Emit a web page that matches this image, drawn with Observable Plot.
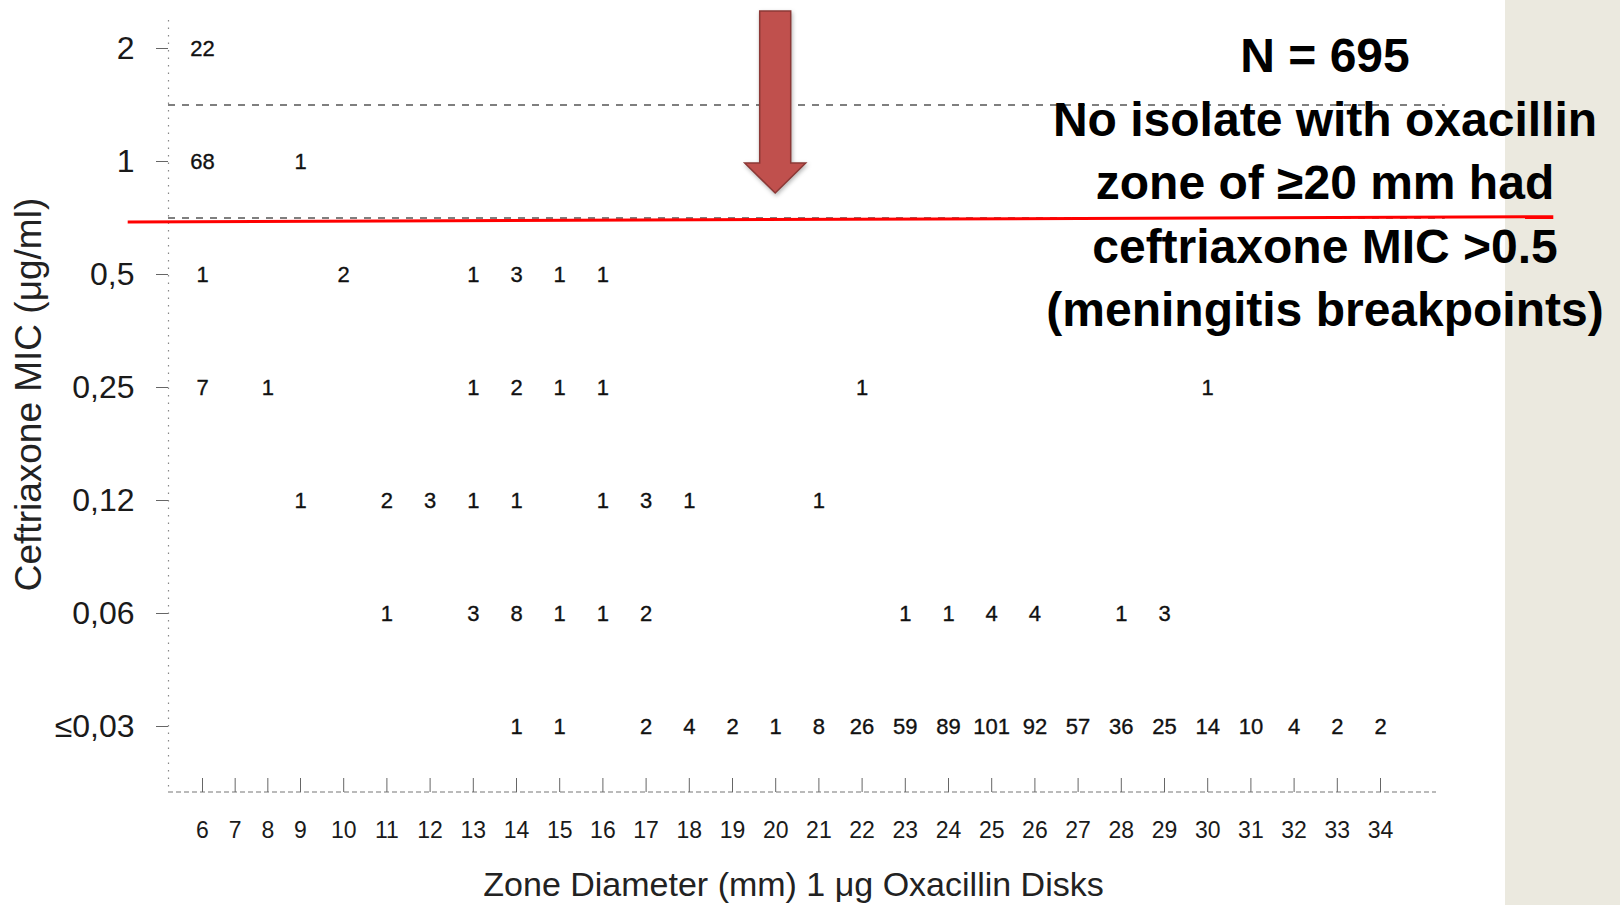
<!DOCTYPE html>
<html>
<head>
<meta charset="utf-8">
<script src="https://cdn.jsdelivr.net/npm/d3@7"></script>
<script src="https://cdn.jsdelivr.net/npm/@observablehq/plot@0.6"></script>
<style>
  html, body { margin: 0; padding: 0; background: #ffffff; width: 1620px; height: 905px; overflow: hidden; }
  #panel { position: absolute; left: 1505px; top: 0; width: 115px; height: 905px; background: #ebe9df; }
  #chart { position: absolute; left: 0; top: 0; }
  #note { position: absolute; left: 1025px; top: 24px; width: 600px; text-align: center;
          font-family: "Liberation Sans", Arial, sans-serif; font-weight: bold; font-size: 48px;
          line-height: 63.5px; color: #000; }
</style>
</head>
<body>
<div id="panel"></div>
<div id="chart"></div>
<div id="note"></div>
<script>
// ---- Data ----
const micValues = [2, 1, 0.5, 0.25, 0.125, 0.0625, 0.03125];
const micLabels = ["2", "1", "0,5", "0,25", "0,12", "0,06", "≤0,03"];
const zoneTicks = [6, 7, 8, 9, 10, 11, 12, 13, 14, 15, 16, 17, 18, 19, 20, 21, 22, 23, 24, 25, 26, 27, 28, 29, 30, 31, 32, 33, 34];

const zones_2 = [6];
const counts_2 = [22];
const zones_1 = [6, 9];
const counts_1 = [68, 1];
const zones_05 = [6, 10, 13, 14, 15, 16];
const counts_05 = [1, 2, 1, 3, 1, 1];
const zones_025 = [6, 8, 13, 14, 15, 16, 22, 30];
const counts_025 = [7, 1, 1, 2, 1, 1, 1, 1];
const zones_012 = [9, 11, 12, 13, 14, 16, 17, 18, 21];
const counts_012 = [1, 2, 3, 1, 1, 1, 3, 1, 1];
const zones_006 = [11, 13, 14, 15, 16, 17, 23, 24, 25, 26, 28, 29];
const counts_006 = [1, 3, 8, 1, 1, 2, 1, 1, 4, 4, 1, 3];
const zones_003 = [14, 15, 17, 18, 19, 20, 21, 22, 23, 24, 25, 26, 27, 28, 29, 30, 31, 32, 33, 34];
const counts_003 = [1, 1, 2, 4, 2, 1, 8, 26, 59, 89, 101, 92, 57, 36, 25, 14, 10, 4, 2, 2];

const breakpointsMIC = [Math.SQRT2, Math.SQRT1_2];   // dashed lines between MIC rows
const arrowZone = 20;                                 // oxacillin zone ≥20 mm
const noteLines = ["N = 695", "No isolate with oxacillin", "zone of ≥20 mm had", "ceftriaxone MIC >0.5", "(meningitis breakpoints)"];
const xTitle = "Zone Diameter (mm) 1 μg Oxacillin Disks";
const yTitle = "Ceftriaxone MIC (μg/ml)";

// ---- Build the table ----
const rowsZones = [zones_2, zones_1, zones_05, zones_025, zones_012, zones_006, zones_003];
const rowsCounts = [counts_2, counts_1, counts_05, counts_025, counts_012, counts_006, counts_003];
const cells = [];
rowsZones.forEach((zs, i) => zs.forEach((z, j) => cells.push({mic: micValues[i], zone: z, count: rowsCounts[i][j]})));

// ---- Custom marks ----
function bottomAxisLine(index, scales, values, dims) {
  const y = dims.height - dims.marginBottom;
  return d3.create("svg:line")
    .attr("x1", dims.marginLeft).attr("x2", dims.width - dims.marginRight)
    .attr("y1", y).attr("y2", y)
    .attr("stroke", "#777").attr("stroke-width", 1.2).attr("stroke-dasharray", "5,3")
    .node();
}
function blockArrow(index, scales) {
  const cx = scales.x(arrowZone);
  const top = scales.y(2) - 37;
  const tip = scales.y(Math.SQRT1_2) - 24.5;
  const headBase = tip - 30;
  const s = 15.5, h = 30.5;
  const d = `M${cx - s},${top}L${cx + s},${top}L${cx + s},${headBase}L${cx + h},${headBase}L${cx},${tip}L${cx - h},${headBase}L${cx - s},${headBase}Z`;
  return d3.create("svg:path").attr("d", d)
    .attr("fill", "#c0504d").attr("stroke", "#8c3836").attr("stroke-width", 1.5)
    .style("filter", "drop-shadow(1px 2px 2px rgba(0,0,0,0.3))")
    .node();
}

const chart = Plot.plot({
  width: 1620,
  height: 905,
  marginLeft: 168,
  marginRight: 184,
  marginTop: 20,
  marginBottom: 113,
  style: {background: "transparent", fontFamily: "'Liberation Sans', Arial, sans-serif", overflow: "visible", color: "#1a1a1a"},
  x: {type: "linear", domain: [5, 6, 9, 34], range: [168, 202, 300, 1380]},
  y: {type: "log", base: 2, domain: [0.03125, 2], range: [726, 48]},
  marks: [
    Plot.ruleX([5], {stroke: "#888", strokeWidth: 1.2, strokeDasharray: "1.5,6"}),
    bottomAxisLine,
    Plot.ruleX(zoneTicks, {x: d => d, insetTop: 758, stroke: "#666", strokeWidth: 1}),
    Plot.ruleY(breakpointsMIC, {y: d => d, x1: 5, x2: 35.5, stroke: "#555", strokeWidth: 1.6, strokeDasharray: "7,7"}),
    blockArrow,
    Plot.link([0], {x1: 3.8, y1: 0.69, x2: 38, y2: 0.713, stroke: "#ff0000", strokeWidth: 3}),
    Plot.axisY({ticks: micValues, tickFormat: d => micLabels[micValues.indexOf(d)], tickSize: 12, tickPadding: 22, fontSize: 32, label: null, stroke: "#666", fill: "#1a1a1a"}),
    Plot.axisX({ticks: zoneTicks, tickFormat: d => String(d), tickSize: 0, tickPadding: 29, fontSize: 23, label: null, fill: "#1a1a1a"}),
    Plot.text(cells, {x: "zone", y: "mic", text: "count", fontSize: 22, fill: "#111", stroke: "#111", strokeWidth: 0.35}),
    Plot.text([xTitle], {frameAnchor: "bottom", textAnchor: "middle", lineAnchor: "middle", dx: -9, dy: 93, fontSize: 34, fill: "#222"}),
    Plot.text([yTitle], {frameAnchor: "left", textAnchor: "middle", lineAnchor: "middle", rotate: -90, dx: -139, dy: -12, fontSize: 37, fill: "#222"})
  ]
});
document.getElementById("chart").appendChild(chart);

const note = document.getElementById("note");
noteLines.forEach(t => { const div = document.createElement("div"); div.textContent = t; note.appendChild(div); });
</script>
</body>
</html>
